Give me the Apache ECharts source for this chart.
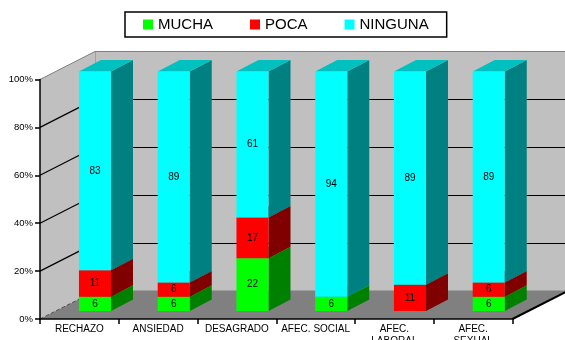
<!DOCTYPE html>
<html><head><meta charset="utf-8">
<script src="https://cdn.jsdelivr.net/npm/echarts@6.0.0/dist/echarts.min.js"></script>
<style>html,body{margin:0;padding:0;background:#fff}#c{width:565px;height:340px}</style>
</head><body><div id="c"></div>
<script>
const categories = ['RECHAZO','ANSIEDAD','DESAGRADO','AFEC. SOCIAL','AFEC.\nLABORAL','AFEC.\nSEXUAL'];
const seriesNames = ['MUCHA','POCA','NINGUNA'];
const mucha   = [6, 6, 22, 6, 0, 6];
const poca    = [11, 6, 17, 0, 11, 6];
const ninguna = [83, 89, 61, 94, 89, 89];
const yTicks = [0, 20, 40, 60, 80, 100];

const FONT = '"Liberation Sans", Arial, sans-serif';
const W = 565, H = 340;
// front plane of the box
const FX0 = 40, FX1 = 512.5, FY0 = 319, FY100 = 79.5;
// depth of box
const DDX = 55, DDY = -28;
// bar front plane offset and bar depth
const BDX = 15.6, BDY = -8;
const SDX = 22, SDY = -11.5;

const palette = [
  {front:'#00ff00', side:'#008000', top:'#00c000'},
  {front:'#ff0000', side:'#800000', top:'#c00000'},
  {front:'#00ffff', side:'#008080', top:'#00c0c0'}
];
const stacks = [mucha, poca, ninguna];

// 100% stacked: each column normalised to its total
function seriesData(k){
  return categories.map((c, i) => {
    let total = 0, start = 0;
    for (let j = 0; j < stacks.length; j++) total += stacks[j][i];
    for (let j = 0; j < k; j++) start += stacks[j][i];
    const s = start / total * 100, e = (start + stacks[k][i]) / total * 100;
    return [i, s, e, stacks[k][i]];
  });
}

function makeRender(k){
  return function(params, api){
    const i = api.value(0), s = api.value(1), e = api.value(2), v = api.value(3);
    if (!v) return null;
    const p0 = api.coord([i, s]), p1 = api.coord([i, e]);
    const bw = api.size([1, 0])[0] * 0.407;
    const xl = p0[0] - bw / 2, xr = p0[0] + bw / 2, yb = p0[1], yt = p1[1];
    const c = palette[k];
    return {type:'group', children:[
      {type:'polygon', shape:{points:[[xr,yb],[xr+SDX,yb+SDY],[xr+SDX,yt+SDY],[xr,yt]]}, style:{fill:c.side}},
      {type:'polygon', shape:{points:[[xl,yt],[xr,yt],[xr+SDX,yt+SDY],[xl+SDX,yt+SDY]]}, style:{fill:c.top}},
      {type:'rect', shape:{x:xl, y:yt, width:bw, height:yb-yt}, style:{fill:c.front}},
      {type:'text', style:{text:String(v), x:(xl+xr)/2, y:(yb+yt)/2, align:'center', verticalAlign:'middle', fill:'#000', font:'10px ' + FONT}}
    ]};
  };
}

const fy = v => FY0 + (FY100 - FY0) * v / 100;

const graphics = [
  // left wall
  {type:'polygon', z:1, z2:0, shape:{points:[[FX0,FY100],[FX0+DDX,FY100+DDY],[FX0+DDX,FY0+DDY],[FX0,FY0]]}, style:{fill:'#c0c0c0'}},
  {type:'line', z:1, z2:1, shape:{x1:FX0, y1:FY100, x2:FX0+DDX, y2:FY100+DDY}, style:{stroke:'#808080', lineWidth:1}},
  // floor
  {type:'polygon', z:1, z2:0, shape:{points:[[FX0,FY0],[FX1,FY0],[FX1+DDX,FY0+DDY],[FX0+DDX,FY0+DDY]]}, style:{fill:'#808080'}},
  {type:'line', z:1, z2:1, shape:{x1:FX0, y1:FY0, x2:FX0+DDX, y2:FY0+DDY}, style:{stroke:'#505050', lineWidth:1, lineDash:[4,2]}},
  {type:'line', z:1, z2:1, shape:{x1:FX1, y1:FY0, x2:FX1+DDX, y2:FY0+DDY}, style:{stroke:'#000', lineWidth:2}}
];
yTicks.filter(v => v > 0 && v < 100).forEach(v => {
  graphics.push({type:'line', z:1, z2:1, shape:{x1:FX0, y1:fy(v), x2:FX0+DDX, y2:fy(v)+DDY}, style:{stroke:'#000', lineWidth:1.2}});
});

const chart = echarts.init(document.getElementById('c'), null, {renderer:'canvas'});
chart.setOption({
  animation: false,
  backgroundColor: '#fff',
  textStyle: {fontFamily: FONT},
  legend: {
    left: 125, top: 12,
    data: seriesNames,
    icon: 'rect', itemWidth: 10, itemHeight: 10, itemGap: 37,
    padding: [5, 18, 5, 18],
    borderColor: '#000', borderWidth: 1.5, backgroundColor: '#fff',
    textStyle: {fontSize: 15, color: '#000', fontFamily: FONT}
  },
  grid: [
    {left: FX0+BDX, width: FX1-FX0, top: FY100+BDY, height: FY0-FY100, outerBoundsMode: 'none', containLabel: false},
    {left: FX0, width: FX1-FX0, top: FY100, height: FY0-FY100, outerBoundsMode: 'none', containLabel: false},
    {left: FX0+DDX, width: FX1-FX0, top: FY100+DDY, height: FY0-FY100, outerBoundsMode: 'none', containLabel: false,
      show: true, backgroundColor: '#c0c0c0', borderColor: '#808080', borderWidth: 1}
  ],
  xAxis: [
    {gridIndex: 0, type: 'category', data: categories, show: false},
    {gridIndex: 1, type: 'category', data: categories, z: 5,
      axisLine: {lineStyle: {color: '#000', width: 1.5}},
      axisTick: {show: true, length: 5, lineStyle: {color: '#000', width: 1.5}},
      axisLabel: {interval: 0, color: '#000', fontSize: 10, margin: 4, lineHeight: 12, fontFamily: FONT},
      splitLine: {show: false}},
    {gridIndex: 2, type: 'category', data: categories, show: false}
  ],
  yAxis: [
    {gridIndex: 0, type: 'value', min: 0, max: 100, interval: 20, show: false},
    {gridIndex: 1, type: 'value', min: 0, max: 100, interval: 20, z: 5,
      axisLine: {show: true, lineStyle: {color: '#000', width: 1.5}},
      axisTick: {show: true, length: 5, lineStyle: {color: '#000', width: 1.5}},
      axisLabel: {formatter: '{value}%', color: '#000', fontSize: 9.5, margin: 7, fontFamily: FONT},
      splitLine: {show: false}},
    {gridIndex: 2, type: 'value', min: 0, max: 100, interval: 20,
      axisLine: {show: false}, axisTick: {show: false}, axisLabel: {show: false},
      splitLine: {show: true, lineStyle: {color: ['#808080','#000','#000','#000','#000','#808080'], width: 1.2}}}
  ],
  graphic: graphics,
  series: seriesNames.map((name, k) => ({
    name: name,
    type: 'custom',
    xAxisIndex: 0, yAxisIndex: 0,
    z: 3,
    itemStyle: {color: palette[k].front},
    encode: {x: 0, y: [1, 2]},
    renderItem: makeRender(k),
    data: seriesData(k)
  }))
});
</script>
</body></html>
